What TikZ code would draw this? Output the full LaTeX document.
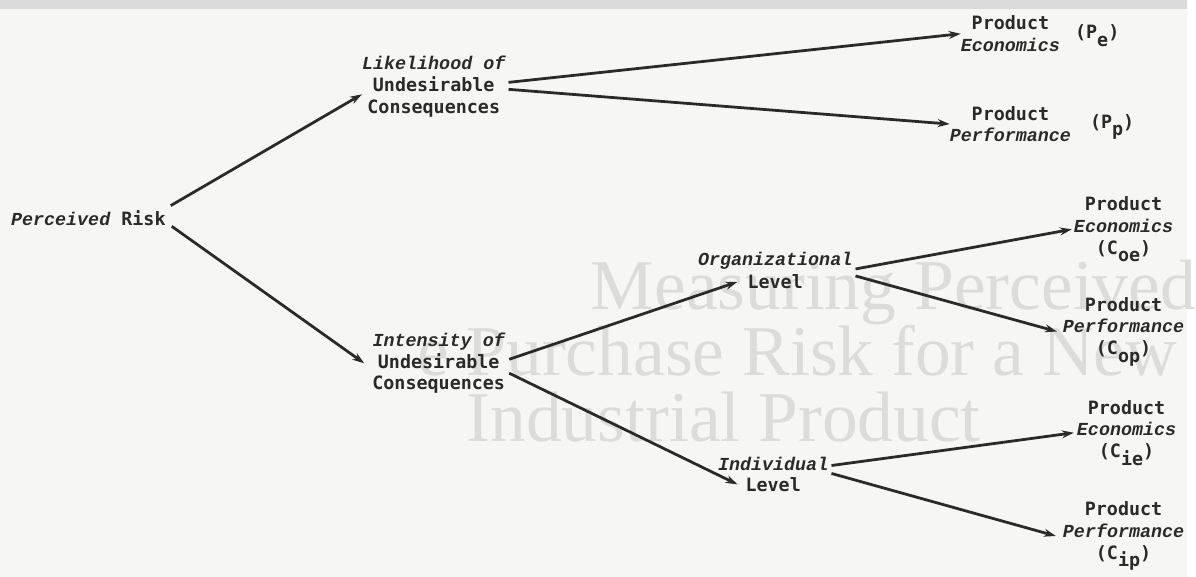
\documentclass[tikz,border=0pt]{standalone}
\usepackage{fontspec}
\setmainfont{DejaVu Sans Mono}
\newfontfamily\scrtype{Liberation Mono}
\newfontfamily\backserif{Liberation Serif}
\usetikzlibrary{arrows.meta}
\definecolor{ink}{HTML}{2A2A2A}
\definecolor{paper}{HTML}{F6F6F4}
\definecolor{ghost}{HTML}{DCDCDA}
\newcommand\emtx[1]{{\scrtype\bfseries\itshape #1}}
\newcommand\lowr[1]{\raisebox{-0.4em}{#1}}
\begin{document}
\begin{tikzpicture}[x=1pt,y=-1pt,
    lbl/.style={font=\fontsize{18.5}{22}\selectfont\bfseries,text=ink,align=center,inner sep=0},
    arr/.style={draw=ink,line width=2.8pt,-{Stealth[length=12pt,width=8pt]}},
    ghosttxt/.style={font=\backserif\fontsize{72}{72}\selectfont,text=ghost,anchor=base west,inner sep=0}]
  \fill[paper] (0,0) rectangle (1196,581);
  \fill[black!14] (0,0) rectangle (1196,9);
  \node[ghosttxt] (gh1) at (595,312) {Measuring Perceived};
  \node[ghosttxt] (gh2) at (420,378) {e Purchase Risk for a New};
  \node[ghosttxt] (gh3) at (470,445) {Industrial Product};
  \node[lbl] (risk) at (89,220) {\emtx{Perceived} Risk};
  \node[lbl] (lik) at (437,87) {\emtx{Likelihood of}\\Undesirable\\Consequences};
  \node[lbl] (int) at (442,366) {\emtx{Intensity of}\\Undesirable\\Consequences};
  \node[lbl] (org) at (781,263) {\emtx{Organizational}};
  \node[lbl] (orglv) at (781,284) {Level};
  \node[lbl] (ind) at (779,467) {\emtx{Individual}};
  \node[lbl] (indlv) at (779,488) {Level};
  \node[lbl] (pe) at (1018,34) {Product\\\emtx{Economics}};
  \node[lbl,anchor=west] (pesub) at (1083,36) {(P\lowr{e})};
  \node[lbl] (pp) at (1018,125) {Product\\\emtx{Performance}};
  \node[lbl,anchor=west] (ppsub) at (1098,128) {(P\lowr{p})};
  \node[lbl] (coe) at (1132,231) {Product\\\emtx{Economics}\\(C\lowr{oe})};
  \node[lbl] (cop) at (1132,334) {Product\\\emtx{Performance}\\(C\lowr{op})};
  \node[lbl] (cie) at (1135,436) {Product\\\emtx{Economics}\\(C\lowr{ie})};
  \node[lbl] (cip) at (1132,540) {Product\\\emtx{Performance}\\(C\lowr{ip})};
  \draw[arr] ([xshift=5pt,yshift=5pt]risk.north east) -- ([yshift=-8pt]lik.west);
  \draw[arr] ([xshift=6pt,yshift=-8pt]risk.east) -- ([xshift=-8pt]int.west);
  \draw[arr] ([xshift=3pt,yshift=4pt]lik.east) -- (pe.west);
  \draw[arr] ([xshift=3pt,yshift=-3pt]lik.east) -- (pp.west);
  \draw[arr] ([xshift=4pt,yshift=4pt]int.east) -- ([xshift=-10pt]orglv.west);
  \draw[arr] ([xshift=4pt,yshift=-10pt]int.east) -- ([xshift=-8pt]indlv.west);
  \draw[arr] ([xshift=3pt,yshift=-8pt]org.east) -- ([xshift=-2pt]coe.west);
  \draw[arr] ([xshift=3pt,yshift=-15pt]org.east) -- ([xshift=-6pt]cop.west);
  \draw[arr] ([xshift=3pt,yshift=-2pt]ind.east) -- ([xshift=-3pt]cie.west);
  \draw[arr] ([xshift=3pt,yshift=-10pt]ind.east) -- ([xshift=-7pt]cip.west);
\end{tikzpicture}
\end{document}
